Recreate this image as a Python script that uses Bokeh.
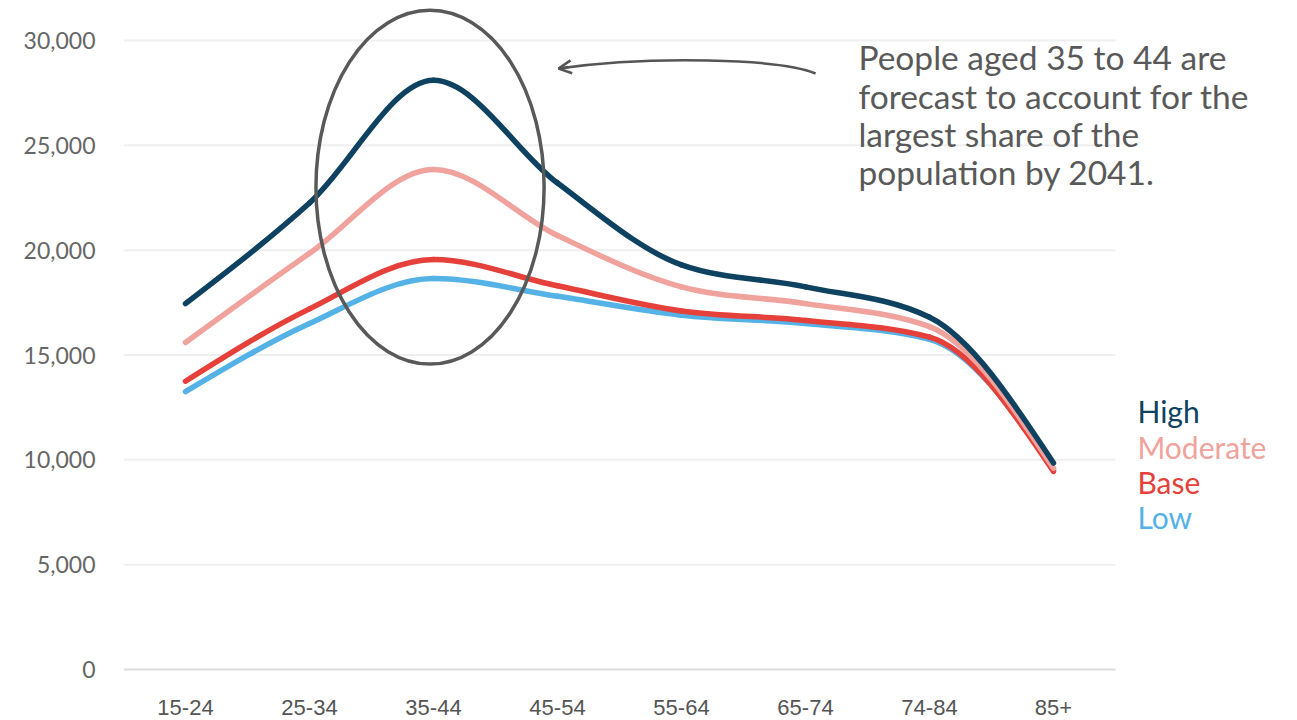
from bokeh.plotting import figure
from bokeh.models import Range1d, FixedTicker, NumeralTickFormatter, Label, Arrow, OpenHead
from bokeh.embed import file_html
from bokeh.resources import INLINE

categories = ["15-24", "25-34", "35-44", "45-54", "55-64", "65-74", "74-84", "85+"]
high = [17450, 22250, 28100, 23200, 19300, 18250, 16800, 9850]
moderate = [15600, 19850, 23850, 20700, 18250, 17450, 16350, 9600]
base = [13750, 17200, 19550, 18300, 17100, 16650, 15850, 9450]
low = [13250, 16500, 18650, 17800, 16900, 16500, 15750, 9550]

series_names = ["High", "Moderate", "Base", "Low"]
series_colors = ["#0e4260", "#f0a29c", "#e5403a", "#54b2e6"]

y_ticks = [0, 5000, 10000, 15000, 20000, 25000, 30000]

FONT = "Lato"


def monotone_segments(ys):
    """Monotone cubic (d3 curveMonotoneX) bezier control points."""
    n = len(ys)
    xs = list(range(n))
    s = [(ys[i + 1] - ys[i]) / (xs[i + 1] - xs[i]) for i in range(n - 1)]
    t = [0.0] * n
    for i in range(1, n - 1):
        s0, s1 = s[i - 1], s[i]
        if s0 * s1 <= 0:
            t[i] = 0.0
        else:
            pp = (s0 + s1) / 2
            sign = 1 if s0 > 0 else -1
            t[i] = sign * 2 * min(abs(s0), abs(s1), 0.5 * abs(pp))
    t[0] = (3 * s[0] - t[1]) / 2
    t[-1] = (3 * s[-1] - t[-2]) / 2
    seg = dict(x0=[], y0=[], x1=[], y1=[], cx0=[], cy0=[], cx1=[], cy1=[])
    for i in range(n - 1):
        h = xs[i + 1] - xs[i]
        seg["x0"].append(xs[i]); seg["y0"].append(ys[i])
        seg["x1"].append(xs[i + 1]); seg["y1"].append(ys[i + 1])
        seg["cx0"].append(xs[i] + h / 3); seg["cy0"].append(ys[i] + t[i] * h / 3)
        seg["cx1"].append(xs[i + 1] - h / 3); seg["cy1"].append(ys[i + 1] - t[i + 1] * h / 3)
    return seg


LEFT = 123
FRAME_W = 1167
FRAME_H = 672
p = figure(frame_width=FRAME_W, frame_height=FRAME_H,
           x_range=Range1d(-0.5, -0.5 + FRAME_W / 124.0),
           y_range=Range1d(-143, 31908),
           output_backend="svg", toolbar_location=None,
           min_border_left=LEFT, min_border_right=0,
           min_border_top=0, min_border_bottom=48)
p.outline_line_color = None
p.background_fill_color = "white"
p.border_fill_color = "white"
p.xgrid.visible = False
p.ygrid.visible = False

# horizontal gridlines and baseline limited to the category band
cat_lo, cat_hi = -0.5, len(categories) - 0.5
p.segment(x0=[cat_lo] * (len(y_ticks) - 1), x1=[cat_hi] * (len(y_ticks) - 1),
          y0=y_ticks[1:], y1=y_ticks[1:], line_color="#efefef", line_width=2)
p.segment(x0=[cat_lo], x1=[cat_hi], y0=[0], y1=[0], line_color="#dcdcdc", line_width=2)

p.yaxis.ticker = FixedTicker(ticks=y_ticks)
p.yaxis.formatter = NumeralTickFormatter(format="0,0")
p.yaxis.axis_line_color = None
p.yaxis.major_tick_line_color = None
p.yaxis.minor_tick_line_color = None
p.yaxis.major_label_standoff = 22
p.yaxis.major_label_text_font = FONT
p.yaxis.major_label_text_font_size = "23px"
p.yaxis.major_label_text_color = "#666666"

p.xaxis.ticker = FixedTicker(ticks=list(range(len(categories))))
p.xaxis.major_label_overrides = {i: c for i, c in enumerate(categories)}
p.xaxis.axis_line_color = None
p.xaxis.major_tick_line_color = None
p.xaxis.minor_tick_line_color = None
p.xaxis.major_label_standoff = 21
p.xaxis.major_label_text_font = "Liberation Sans"
p.xaxis.major_label_text_font_size = "22px"
p.xaxis.major_label_text_color = "#555555"

all_series = [high, moderate, base, low]
for ys, col in reversed(list(zip(all_series, series_colors))):
    seg = monotone_segments(ys)
    p.bezier(x0=seg["x0"], y0=seg["y0"], x1=seg["x1"], y1=seg["y1"],
             cx0=seg["cx0"], cy0=seg["cy0"], cx1=seg["cx1"], cy1=seg["cy1"],
             line_color=col, line_width=5.5, line_cap="round")

# ellipse highlight around 35-44
p.ellipse(x=1.972, y=23004, width=1.84, height=16884,
          fill_color=None, line_color="#595959", line_width=3.5)

# curved arrow
p.bezier(x0=[5.081], y0=[28426], x1=[3.008], y1=[28664],
         cx0=[4.798], cy0=[29141], cx1=[3.75], cy1=[29284],
         line_color="#555555", line_width=2.5)
p.add_layout(Arrow(end=OpenHead(size=13, line_color="#555555", line_width=2.5),
                   x_start=3.089, y_start=28727, x_end=3.008, y_end=28664,
                   line_color="#555555", line_width=2.5))

note_lines = ["People aged 35 to 44 are", "forecast to account for the",
              "largest share of the", "population by 2041."]
note_y = [29236, 27376, 25564, 23751]
for txt, yy in zip(note_lines, note_y):
    p.add_layout(Label(x=5.427, y=yy, text=txt, text_font=FONT,
                       text_font_size="33.5px", text_color="#595959",
                       text_baseline="middle", text_align="left"))

legend_y = [12352, 10635, 8966, 7297]
for name, col, yy in zip(series_names, series_colors, legend_y):
    p.add_layout(Label(x=7.677, y=yy, text=name, text_font=FONT,
                       text_font_size="30px", text_color=col,
                       text_baseline="middle", text_align="left"))

open("out.html", "w").write(file_html(p, INLINE))
